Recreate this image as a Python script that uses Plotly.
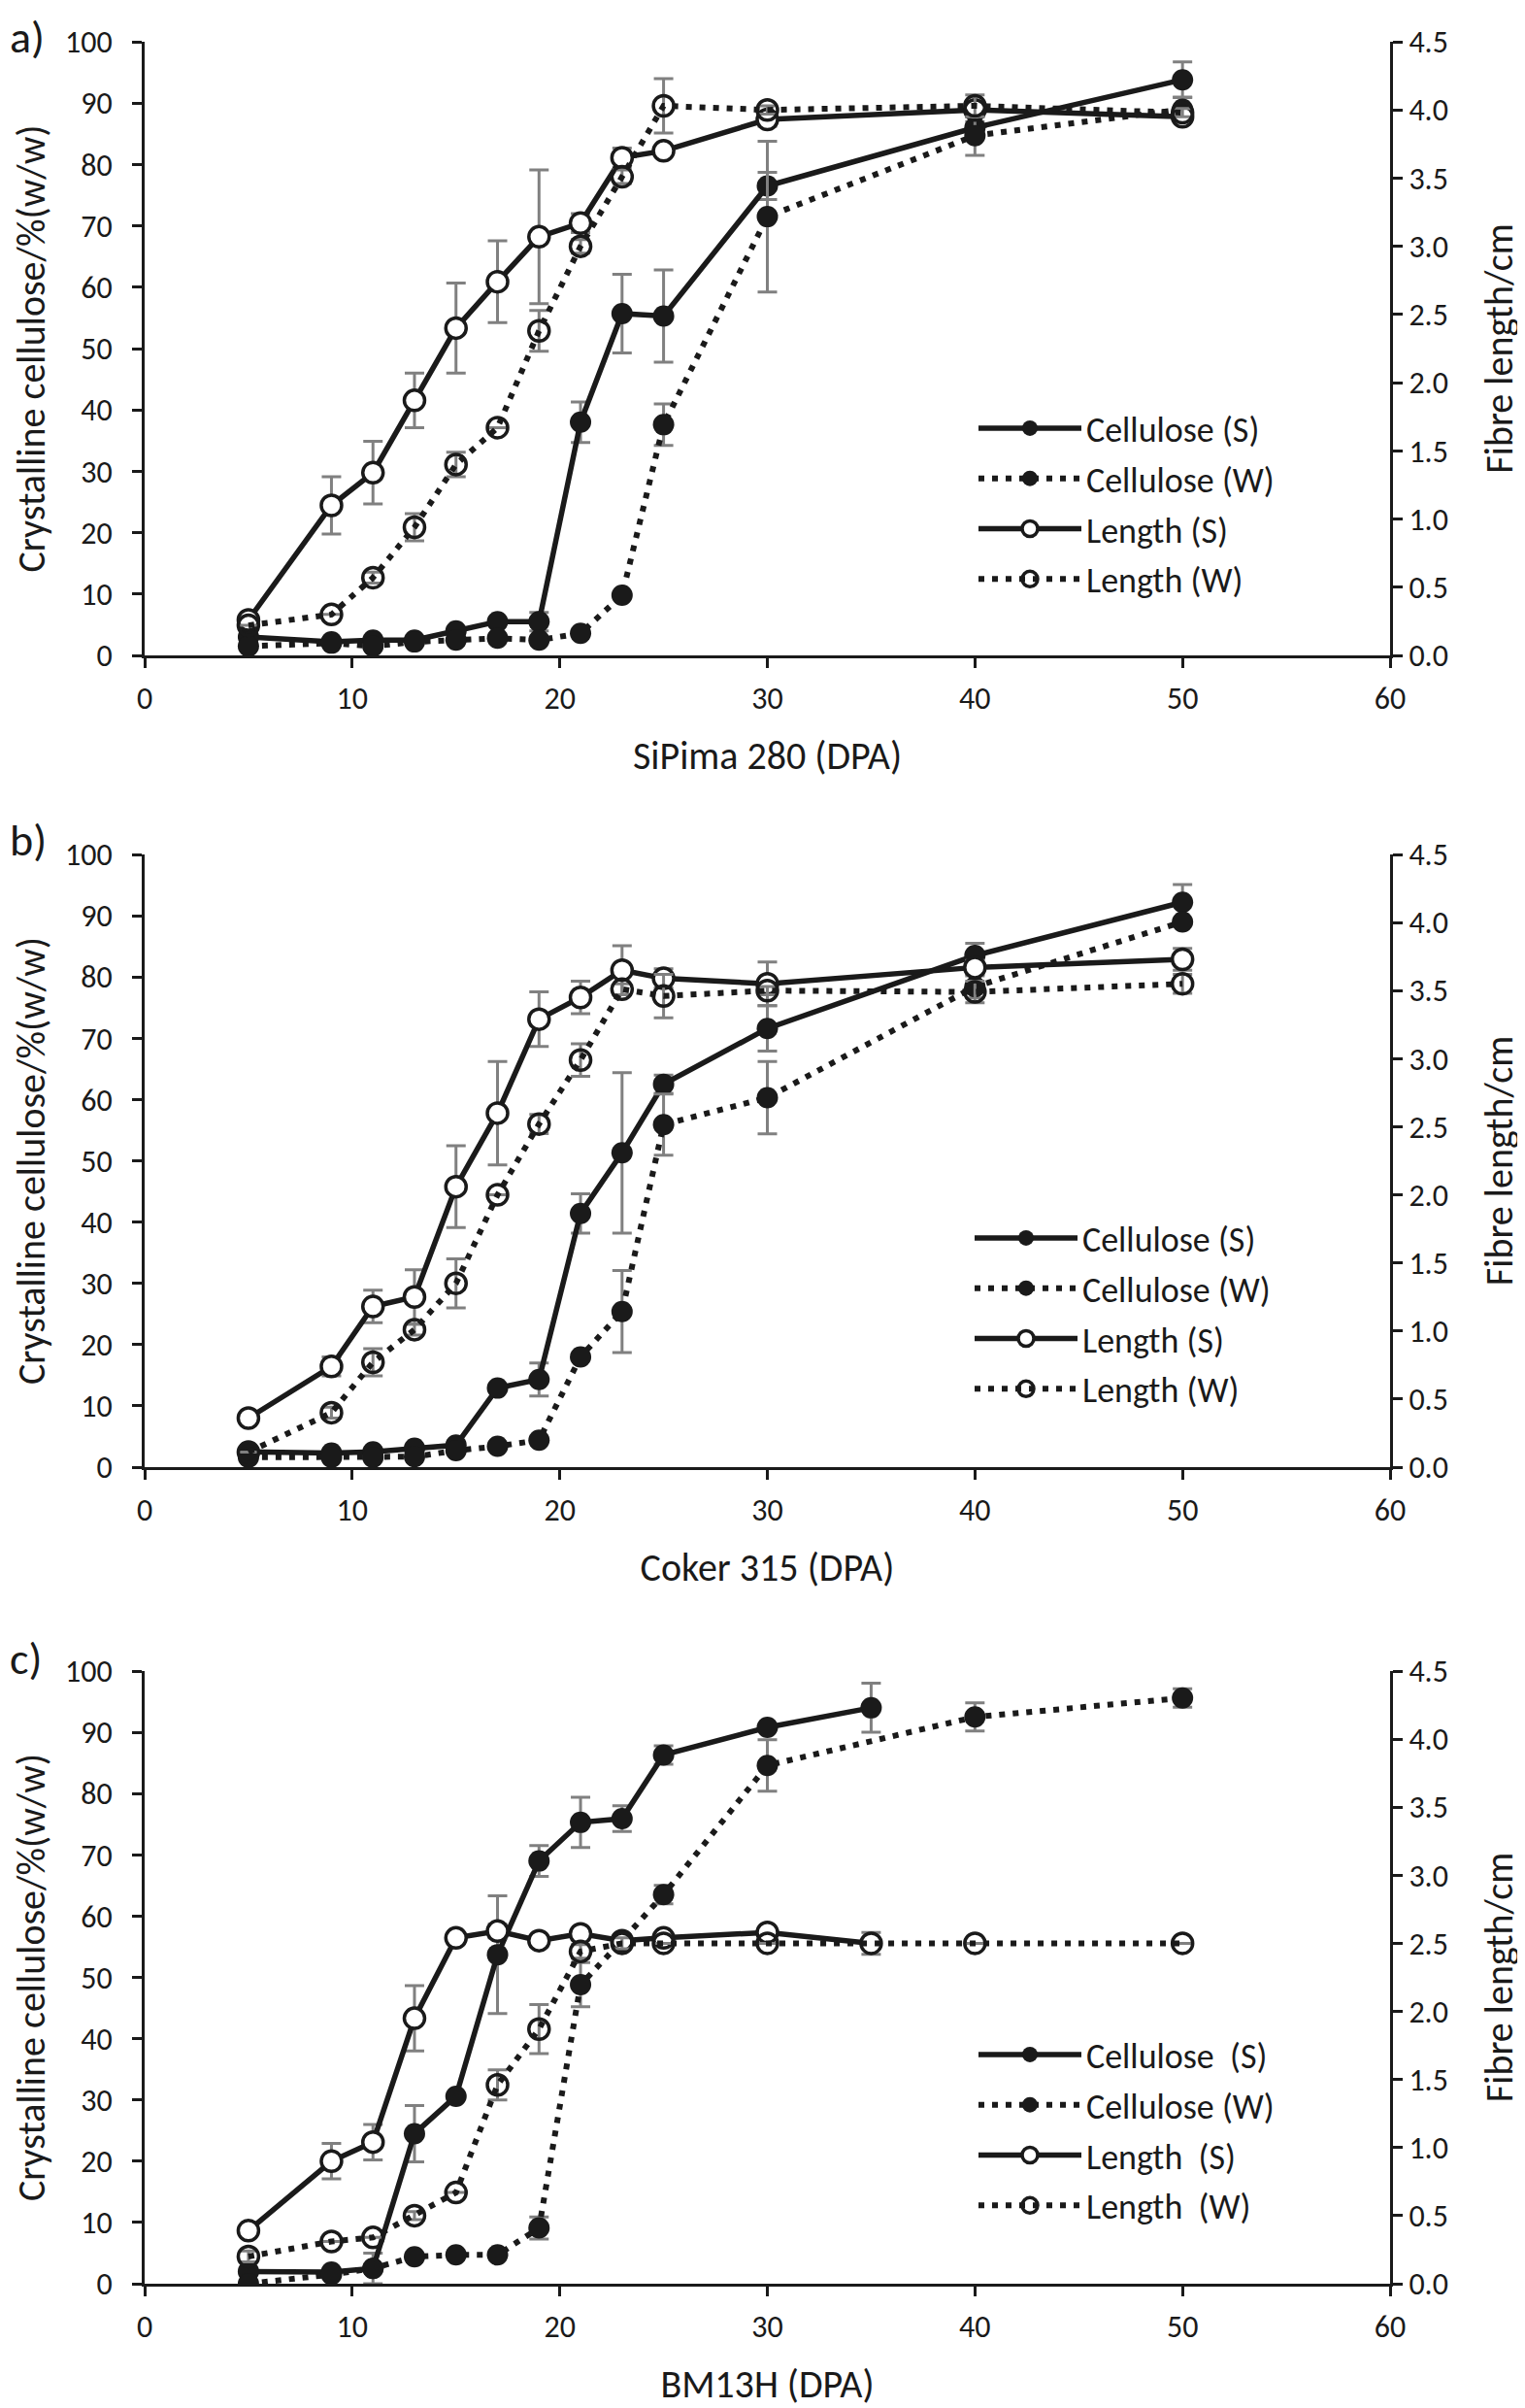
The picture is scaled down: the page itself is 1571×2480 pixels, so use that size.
import plotly.graph_objects as go
from plotly.subplots import make_subplots

# ---------------- data ----------------
# Panel a) SiPima 280
xa = [5, 9, 11, 13, 15, 17, 19, 21, 23, 25, 30, 40, 50]
cellS_a = [3.0, 2.2, 2.5, 2.5, 4.0, 5.5, 5.5, 38.0, 55.7, 55.3, 76.5, 86.0, 93.8]
cellS_a_err = [0, 0, 0, 0, 0, 0, 1.5, 3.3, 6.4, 7.5, 2.2, 1.0, 2.9]
cellW_a = [1.5, 2.0, 1.5, 2.2, 2.5, 2.8, 2.5, 3.6, 9.8, 37.6, 71.5, 84.7, 89.0]
cellW_a_err = [0, 0, 0, 0, 0, 0, 0, 0, 0, 3.4, 12.3, 3.2, 2.0]
lenS_a = [0.26, 1.10, 1.34, 1.87, 2.40, 2.74, 3.07, 3.17, 3.65, 3.70, 3.93, 4.00, 3.95]
lenS_a_err = [0, 0.21, 0.23, 0.20, 0.33, 0.30, 0.49, 0.07, 0.07, 0, 0.05, 0.05, 0]
lenW_a = [0.22, 0.30, 0.57, 0.94, 1.40, 1.67, 2.38, 3.00, 3.51, 4.03, 4.00, 4.03, 3.98]
lenW_a_err = [0, 0, 0.04, 0.10, 0.09, 0, 0.15, 0.05, 0.05, 0.20, 0.03, 0.08, 0.03]

# Panel b) Coker 315
xb = [5, 9, 11, 13, 15, 17, 19, 21, 23, 25, 30, 40, 50]
cellS_b = [2.5, 2.3, 2.5, 3.1, 3.6, 12.9, 14.3, 41.4, 51.3, 62.5, 71.6, 83.5, 92.2]
cellS_b_err = [0, 0, 0, 0, 0, 0, 2.7, 3.2, 13.1, 1.5, 3.7, 2.0, 2.9]
cellW_b = [1.6, 1.6, 1.6, 1.7, 2.7, 3.4, 4.4, 18.0, 25.4, 55.9, 60.3, 78.4, 89.0]
cellW_b_err = [0, 0, 0, 0, 0, 0, 0, 0, 6.7, 5.0, 5.9, 1.8, 0]
lenS_b = [0.36, 0.74, 1.18, 1.25, 2.06, 2.60, 3.29, 3.45, 3.65, 3.59, 3.55, 3.67, 3.73]
lenS_b_err = [0, 0.07, 0.12, 0.20, 0.30, 0.38, 0.20, 0.12, 0.18, 0.07, 0.16, 0.05, 0.08]
lenW_b = [0.11, 0.40, 0.77, 1.01, 1.35, 2.00, 2.52, 2.99, 3.51, 3.46, 3.50, 3.49, 3.55]
lenW_b_err = [0, 0.04, 0.10, 0.04, 0.18, 0, 0.07, 0.12, 0.04, 0.16, 0.03, 0.08, 0.07]

# Panel c) BM13H
xc_S = [5, 9, 11, 13, 15, 17, 19, 21, 23, 25, 30, 35]
xc_W = [5, 9, 11, 13, 15, 17, 19, 21, 23, 25, 30, 40, 50]
cellS_c = [2.0, 1.9, 2.5, 24.5, 30.6, 53.7, 69.0, 75.3, 75.9, 86.3, 90.8, 94.0]
cellS_c_err = [0, 0, 2.5, 4.6, 0, 9.6, 2.5, 4.1, 2.1, 1.5, 0, 4.0]
cellW_c = [0.0, 1.5, 2.5, 4.4, 4.7, 4.7, 9.1, 48.8, 56.0, 63.5, 84.6, 92.5, 95.6]
cellW_c_err = [0, 0, 0, 0, 0, 0, 1.8, 3.6, 0, 1.5, 4.2, 2.3, 1.5]
lenS_c = [0.39, 0.90, 1.04, 1.95, 2.54, 2.59, 2.52, 2.57, 2.52, 2.54, 2.58, 2.50]
lenS_c_err = [0, 0.13, 0.13, 0.24, 0, 0.05, 0, 0, 0.04, 0, 0, 0.08]
lenW_c = [0.20, 0.31, 0.34, 0.50, 0.67, 1.46, 1.87, 2.44, 2.50, 2.50, 2.50, 2.50, 2.50]
lenW_c_err = [0.04, 0, 0, 0.03, 0, 0.11, 0.18, 0.05, 0.04, 0, 0, 0, 0]

panel_labels = ["a)", "b)", "c)"]
x_titles = ["SiPima 280 (DPA)", "Coker 315 (DPA)", "BM13H (DPA)"]
y_title = "Crystalline cellulose/%(w/w)"
y2_title = "Fibre length/cm"
names_ab = ["Cellulose (S)", "Cellulose (W)", "Length (S)", "Length (W)"]
names_c = ["Cellulose\u00a0 (S)", "Cellulose (W)", "Length\u00a0 (S)", "Length\u00a0 (W)"]

# ---------------- figure ----------------
OFF = 8                      # default page body margin
W, H = 1571 - OFF, 2480 - OFF
FONT = "Carlito, Calibri, Lato, sans-serif"
BLACK = "#1a1a1a"
GREY = "#808080"


def px_x(v):
    return (v - OFF) / W


def px_y(v):
    return 1 - (v - OFF) / H


fig = make_subplots(rows=3, cols=1, specs=[[{"secondary_y": True}]] * 3)

panels = [
    (xa, xa, xa, xa, cellS_a, cellS_a_err, cellW_a, cellW_a_err, lenS_a, lenS_a_err, lenW_a, lenW_a_err, names_ab),
    (xb, xb, xb, xb, cellS_b, cellS_b_err, cellW_b, cellW_b_err, lenS_b, lenS_b_err, lenW_b, lenW_b_err, names_ab),
    (xc_S, xc_W, xc_S, xc_W, cellS_c, cellS_c_err, cellW_c, cellW_c_err, lenS_c, lenS_c_err, lenW_c, lenW_c_err, names_c),
]

DOT = "6px,8px"


def err(vals):
    return dict(type="data", array=vals, visible=True, color=GREY, thickness=3, width=10)


for i, p in enumerate(panels):
    (x1, x2, x3, x4, cs, cse, cw, cwe, ls, lse, lw, lwe, names) = p
    row = i + 1
    leg = "legend" if i == 0 else f"legend{i + 1}"
    specs = [
        (x1, cs, cse, names[0], "solid", dict(symbol="circle", color=BLACK, size=22, line=dict(width=0)), False),
        (x2, cw, cwe, names[1], DOT, dict(symbol="circle", color=BLACK, size=22, line=dict(width=0)), False),
        (x3, ls, lse, names[2], "solid", dict(symbol="circle", color="white", size=21, line=dict(width=3.5, color=BLACK)), True),
        (x4, lw, lwe, names[3], DOT, dict(symbol="circle-open", color=BLACK, size=21, line=dict(width=3.5, color=BLACK)), True),
    ]
    for k, (xx, yy, ee, nm, dash, mk, sec) in enumerate(specs):
        fig.add_trace(
            go.Scatter(
                x=xx, y=yy, name=nm, mode="lines+markers",
                line=dict(color=BLACK, width=5.5 if dash == "solid" else 6, dash=dash),
                marker=mk, error_y=err(ee),
                legend=leg, legendgroup=f"g{i}{k}",
            ),
            row=row, col=1, secondary_y=sec,
        )

# domains (window pixel positions -> paper fractions)
xdom = [px_x(149), px_x(1432)]
ydoms = [
    [px_y(675), px_y(43)],
    [px_y(1511), px_y(880)],
    [px_y(2352), px_y(1721)],
]

axis_common = dict(
    showline=True, linecolor=BLACK, linewidth=3, ticks="outside", ticklen=10,
    tickwidth=3, tickcolor=BLACK, showgrid=False, zeroline=False, automargin=False,
    tickfont=dict(family=FONT, size=32, color=BLACK),
)
TFONT = dict(family=FONT, size=40, color=BLACK)

for i in range(3):
    xn = "xaxis" if i == 0 else f"xaxis{i + 1}"
    yn = "yaxis" if i == 0 else f"yaxis{2 * i + 1}"
    y2n = f"yaxis{2 * i + 2}"
    fig.layout[xn].update(
        domain=xdom, range=[0, 60], dtick=10, tick0=0,
        title=dict(text=x_titles[i], font=TFONT, standoff=26),
        ticklabelstandoff=4,
        **axis_common,
    )
    fig.layout[yn].update(
        domain=ydoms[i], range=[0, 100], dtick=10, tick0=0,
        title=dict(text=y_title, font=TFONT, standoff=16),
        ticklabelstandoff=14,
        **axis_common,
    )
    fig.layout[y2n].update(
        domain=ydoms[i], range=[0, 4.5], dtick=0.5, tick0=0, tickformat=".1f",
        title=dict(text=y2_title, font=TFONT, standoff=40),
        **axis_common,
    )

# panel letters (window y of their centres)
label_y = [None, 865, 1708]
for i in range(3):
    if i == 0:
        ypos, yanc = 1.0, "top"
    else:
        ypos, yanc = px_y(label_y[i]), "middle"
    fig.add_annotation(
        text=panel_labels[i], xref="paper", yref="paper", x=0.0, y=ypos,
        xanchor="left", yanchor=yanc, showarrow=False,
        font=dict(family=FONT, size=46, color=BLACK),
    )

leg_pos = [(1003, 411), (999, 1245), (1003, 2086)]
for i, (lx, ly) in enumerate(leg_pos):
    ln = "legend" if i == 0 else f"legend{i + 1}"
    fig.layout[ln] = dict(
        x=px_x(lx), y=px_y(ly), xanchor="left", yanchor="top",
        bgcolor="rgba(0,0,0,0)", borderwidth=0,
        font=dict(family=FONT, size=36, color=BLACK),
        itemwidth=106, tracegroupgap=2, traceorder="grouped",
    )

fig.update_layout(
    width=W, height=H,
    margin=dict(l=0, r=0, t=0, b=0),
    paper_bgcolor="white", plot_bgcolor="white",
    showlegend=True,
)

fig.write_html("out.html")
